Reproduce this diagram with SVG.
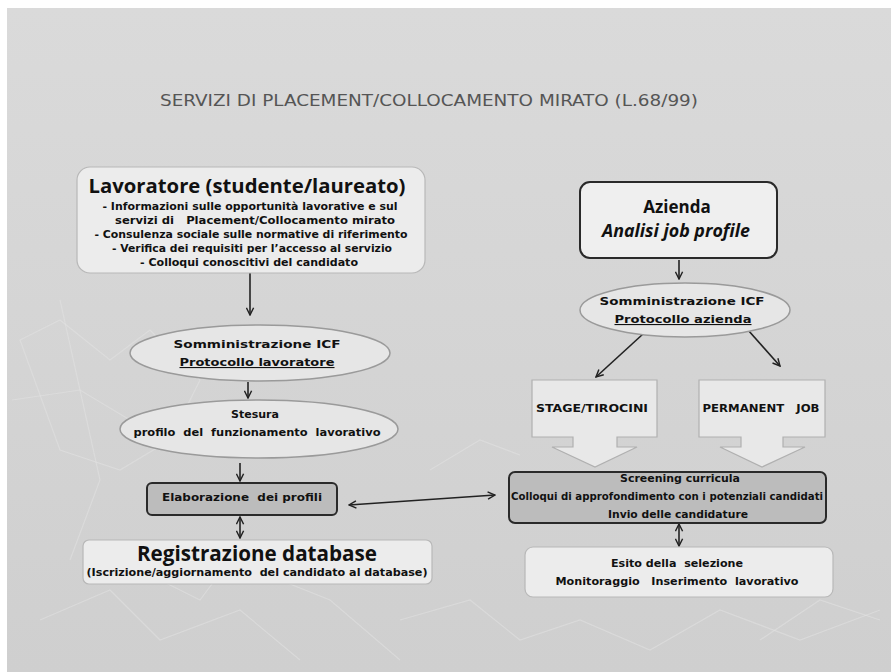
<svg xmlns="http://www.w3.org/2000/svg" width="891" height="672" viewBox="0 0 891 672">
<defs>
<linearGradient id="bg" x1="0" y1="0" x2="0" y2="1">
<stop offset="0" stop-color="#dadada"/>
<stop offset="1" stop-color="#cfcfcf"/>
</linearGradient>
<marker id="ah" viewBox="0 0 10 10" refX="9" refY="5" markerWidth="9" markerHeight="9" markerUnits="userSpaceOnUse" orient="auto-start-reverse">
<path d="M1,1 L9,5 L1,9" fill="none" stroke="#222" stroke-width="1.6"/>
</marker>
<style>
.t{font-family:"DejaVu Sans","Liberation Sans",sans-serif;fill:#111;font-weight:bold}
.big{font-family:"Open Sans","Liberation Sans",sans-serif;font-weight:700;fill:#111}
.small{font-size:10px}
.light{fill:#ececec;stroke:#b8b8b8;stroke-width:1.2}
.dark{fill:#bcbcbc;stroke:#2a2a2a;stroke-width:2}
.ell{fill:#e6e6e6;stroke:#9a9a9a;stroke-width:1.5}
.callout{fill:#e8e8e8;stroke:#b0b0b0;stroke-width:1.2}
.con{fill:none;stroke:#222;stroke-width:1.6}
.deco{fill:none;stroke:#e2e2e2;stroke-width:1.2;opacity:0.55}
</style>
</defs>
<rect x="0" y="0" width="891" height="672" fill="#ffffff"/>
<rect x="7" y="8" width="884" height="664" fill="url(#bg)"/>
<g id="background-pattern">
<path class="deco" d="M20,340 L60,320 L110,360 L150,330 L200,380 L170,440 L120,470 L60,450 Z"/>
<path class="deco" d="M40,620 L110,590 L160,640 L240,610 L300,660"/>
<path class="deco" d="M160,580 L200,600 L230,560 L330,600 L400,660"/>
<path class="deco" d="M400,620 L470,600 L520,640 L580,620 L650,650 L720,610 L800,640 L880,610"/>
<path class="deco" d="M430,470 L480,440 L520,455"/>
<path class="deco" d="M760,640 L820,600 L880,620"/>
<path class="deco" d="M60,300 L100,480 L70,560"/>
<path class="deco" d="M12,400 L80,390 L130,420"/>
</g>
<text x="429" y="106" text-anchor="middle" font-family="'DejaVu Sans Condensed','DejaVu Sans',sans-serif" font-size="15" fill="#555" textLength="538" lengthAdjust="spacingAndGlyphs">SERVIZI DI PLACEMENT/COLLOCAMENTO MIRATO (L.68/99)</text>

<g id="connectors">
<line class="con" x1="250" y1="273" x2="250" y2="315" marker-end="url(#ah)"/>
<line class="con" x1="248" y1="382" x2="248" y2="398" marker-end="url(#ah)"/>
<line class="con" x1="240" y1="463" x2="240" y2="481" marker-end="url(#ah)"/>
<line class="con" x1="240" y1="517" x2="240" y2="538" marker-start="url(#ah)" marker-end="url(#ah)"/>
<line class="con" x1="349" y1="505" x2="495" y2="495" marker-start="url(#ah)" marker-end="url(#ah)"/>
<line class="con" x1="679" y1="260" x2="679" y2="279" marker-end="url(#ah)"/>
<line class="con" x1="643" y1="334" x2="596" y2="377" marker-end="url(#ah)"/>
<line class="con" x1="748" y1="330" x2="780" y2="366" marker-end="url(#ah)"/>
<line class="con" x1="679" y1="524" x2="679" y2="546" marker-start="url(#ah)" marker-end="url(#ah)"/>
</g>

<g id="lavoratore">
<rect class="light" x="77" y="167" width="348" height="106" rx="13"/>
<text class="big" x="247" y="193" text-anchor="middle" font-size="20" textLength="317" lengthAdjust="spacingAndGlyphs">Lavoratore (studente/laureato)</text>
<text class="t small" x="250" y="210" text-anchor="middle" textLength="295" lengthAdjust="spacingAndGlyphs">- Informazioni sulle opportunità lavorative e sul</text>
<text class="t small" x="255" y="224" text-anchor="middle" textLength="280" lengthAdjust="spacingAndGlyphs">servizi di&#160;&#160; Placement/Collocamento mirato</text>
<text class="t small" x="251" y="238" text-anchor="middle" textLength="313" lengthAdjust="spacingAndGlyphs">- Consulenza sociale sulle normative di riferimento</text>
<text class="t small" x="252" y="252" text-anchor="middle" textLength="280" lengthAdjust="spacingAndGlyphs">- Verifica dei requisiti per l’accesso al servizio</text>
<text class="t small" x="249" y="266" text-anchor="middle" textLength="218" lengthAdjust="spacingAndGlyphs">- Colloqui conoscitivi del candidato</text>
</g>

<g id="icf-lavoratore">
<ellipse class="ell" cx="260" cy="353" rx="130" ry="28"/>
<text class="t" x="257" y="348" text-anchor="middle" font-size="11" textLength="167" lengthAdjust="spacingAndGlyphs">Somministrazione ICF</text>
<text class="t" x="257" y="366" text-anchor="middle" font-size="11" textLength="155" lengthAdjust="spacingAndGlyphs" text-decoration="underline">Protocollo lavoratore</text>
</g>

<g id="stesura">
<ellipse class="ell" cx="259" cy="429" rx="139" ry="29"/>
<text class="t small" x="255" y="418" text-anchor="middle" textLength="48" lengthAdjust="spacingAndGlyphs">Stesura</text>
<text class="t small" x="257" y="436" text-anchor="middle" textLength="247" lengthAdjust="spacingAndGlyphs">profilo&#160; del&#160; funzionamento&#160; lavorativo</text>
</g>

<g id="elaborazione">
<rect class="dark" x="147" y="483" width="190" height="32" rx="5"/>
<text class="t small" x="242" y="501" text-anchor="middle" textLength="160" lengthAdjust="spacingAndGlyphs">Elaborazione&#160; dei profili</text>
</g>

<g id="registrazione">
<rect class="light" x="83" y="540" width="349" height="44" rx="6"/>
<text class="big" x="257" y="561" text-anchor="middle" font-size="21" textLength="240" lengthAdjust="spacingAndGlyphs">Registrazione database</text>
<text class="t small" x="257" y="576" text-anchor="middle" textLength="341" lengthAdjust="spacingAndGlyphs">(Iscrizione/aggiornamento&#160; del candidato al database)</text>
</g>

<g id="azienda">
<rect x="580" y="182" width="197" height="76" rx="10" fill="#efefef" stroke="#2a2a2a" stroke-width="2"/>
<text class="big" x="677" y="213" text-anchor="middle" font-size="17" font-weight="600">Azienda</text>
<text class="big" x="676" y="237" text-anchor="middle" font-size="17" font-weight="600" font-style="italic" textLength="148" lengthAdjust="spacingAndGlyphs">Analisi job profile</text>
</g>

<g id="icf-azienda">
<ellipse class="ell" cx="685" cy="310" rx="105" ry="27"/>
<text class="t" x="682" y="305" text-anchor="middle" font-size="11" textLength="165" lengthAdjust="spacingAndGlyphs">Somministrazione ICF</text>
<text class="t" x="683" y="323" text-anchor="middle" font-size="11" textLength="137" lengthAdjust="spacingAndGlyphs" text-decoration="underline">Protocollo azienda</text>
</g>

<g id="stage">
<path class="callout" d="M532,380 H657 V437 H617 V447 H637 L595,467 L552,447 H573 V437 H532 Z"/>
<text class="t" x="592" y="412" text-anchor="middle" font-size="11" textLength="112" lengthAdjust="spacingAndGlyphs">STAGE/TIROCINI</text>
</g>

<g id="permanent">
<path class="callout" d="M699,380 H825 V437 H783 V447 H805 L762,467 L720,447 H741 V437 H699 Z"/>
<text class="t" x="761" y="412" text-anchor="middle" font-size="11" textLength="117" lengthAdjust="spacingAndGlyphs">PERMANENT&#160;&#160; JOB</text>
</g>

<g id="screening">
<rect class="dark" x="509" y="472" width="317" height="51" rx="6"/>
<text class="t small" x="680" y="482" text-anchor="middle" textLength="120" lengthAdjust="spacingAndGlyphs">Screening curricula</text>
<text class="t small" x="667" y="500" text-anchor="middle" textLength="312" lengthAdjust="spacingAndGlyphs">Colloqui di approfondimento con i potenziali candidati</text>
<text class="t small" x="678" y="518" text-anchor="middle" textLength="140" lengthAdjust="spacingAndGlyphs">Invio delle candidature</text>
</g>

<g id="esito">
<rect class="light" x="525" y="547" width="308" height="50" rx="8"/>
<text class="t small" x="677" y="567" text-anchor="middle" textLength="132" lengthAdjust="spacingAndGlyphs">Esito della&#160; selezione</text>
<text class="t small" x="677" y="585" text-anchor="middle" textLength="243" lengthAdjust="spacingAndGlyphs">Monitoraggio&#160;&#160; Inserimento&#160; lavorativo</text>
</g>
</svg>
